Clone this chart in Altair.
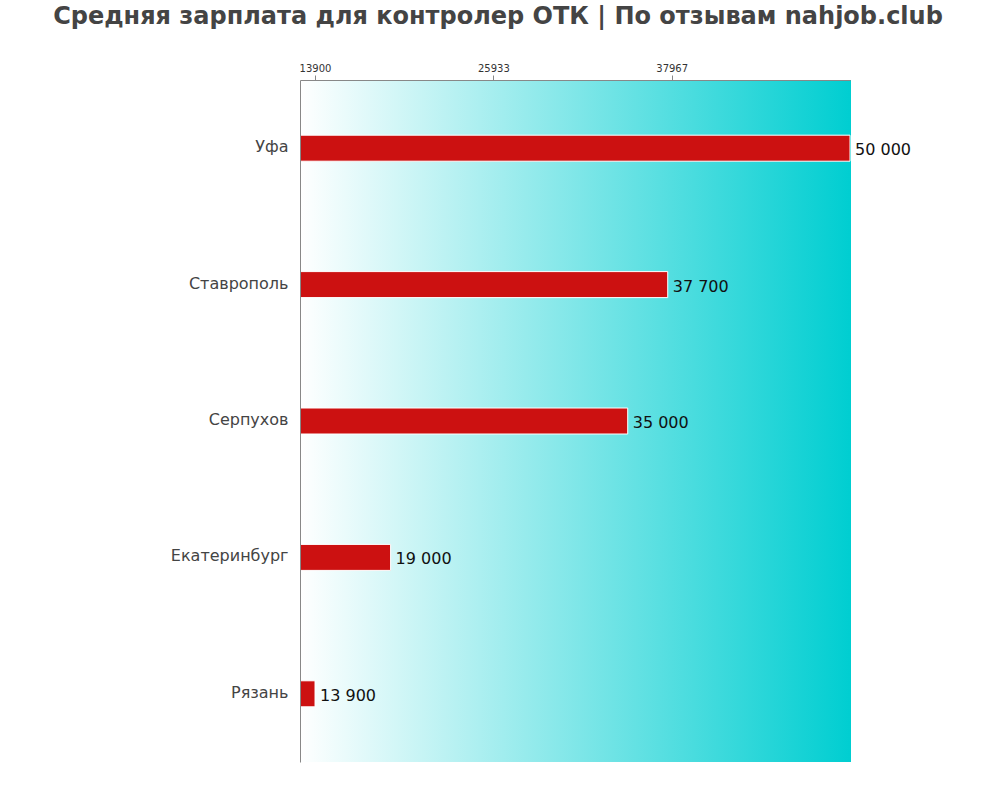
import altair as alt
import pandas as pd

cities = ["Уфа", "Ставрополь", "Серпухов", "Екатеринбург", "Рязань"]
salaries = [50000, 37700, 35000, 19000, 13900]
labels = ["50 000", "37 700", "35 000", "19 000", "13 900"]
tick_values = [13900, 25933, 37967]
x_domain = [12886, 50000]

df = pd.DataFrame({"city": cities, "salary": salaries, "label": labels})

W, H = 550, 682

bg = alt.Chart(pd.DataFrame({"a": [0]})).mark_rect(
    color=alt.Gradient(
        gradient="linear",
        stops=[alt.GradientStop(color="#ffffff", offset=0),
               alt.GradientStop(color="#00ced1", offset=1)],
        x1=0, x2=1, y1=0, y2=0,
    )
).encode(x=alt.value(0), x2=alt.value(W + 1), y=alt.value(0), y2=alt.value(H))

ysc = alt.Y("city:N", sort=cities, title=None,
            axis=alt.Axis(labelFontSize=16, labelColor="#444444", labelFont="DejaVu Sans",
                          ticks=False, domainColor="#888888", labelPadding=12, zindex=1,
                          labelOffset=-1))
xsc = alt.X("salary:Q", scale=alt.Scale(domain=x_domain, nice=False, zero=False),
            title=None,
            axis=alt.Axis(orient="top", values=tick_values, format="d", grid=False,
                          labelFontSize=10, labelColor="#333333", labelFont="DejaVu Sans",
                          tickColor="#888888", domainColor="#888888", tickSize=5,
                          labelPadding=2, zindex=1))

bars = alt.Chart(df).mark_bar(size=26, color="#cc1111", stroke="white", strokeWidth=1).encode(
    y=ysc, x=xsc, x2=alt.datum(x_domain[0])
)

text = alt.Chart(df).mark_text(align="left", baseline="middle", dx=5, dy=2, fontSize=16,
                               font="DejaVu Sans", color="#111111").encode(
    y=alt.Y("city:N", sort=cities), x=alt.X("salary:Q"), text="label:N"
)

chart = alt.layer(bg, bars, text).properties(
    width=W, height=H,
    title=alt.Title("Средняя зарплата для контролер ОТК | По отзывам nahjob.club",
                    fontSize=24, font="DejaVu Sans", fontWeight="bold", color="#444444",
                    anchor="middle", frame="group", dx=-77, offset=34),
    autosize=alt.AutoSizeParams(type="none"),
    padding={"left": 300, "top": 80, "right": 149, "bottom": 38},
).configure_view(stroke=None).configure_scale(bandPaddingInner=0, bandPaddingOuter=0)

chart.save("out.html", embed_options={"renderer": "svg", "actions": False})
